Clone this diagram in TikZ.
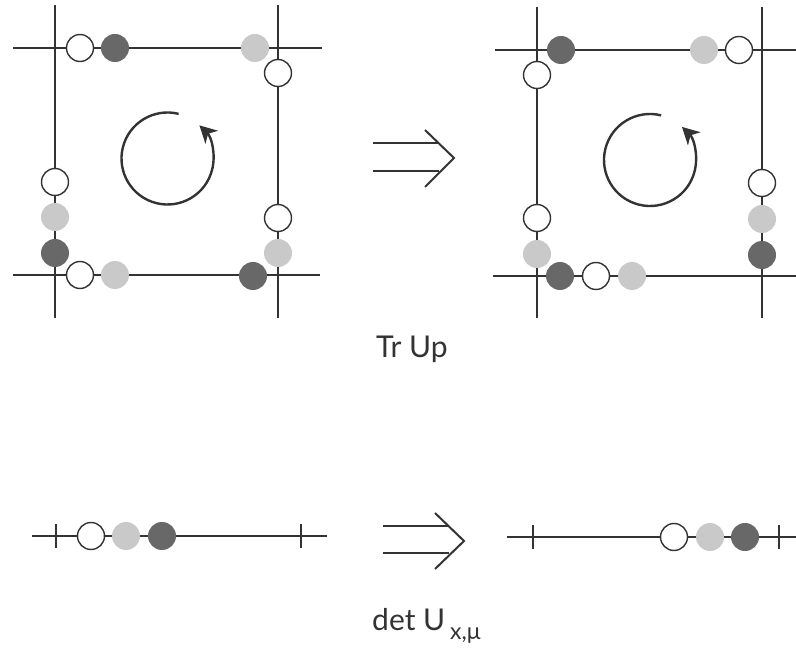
\documentclass[tikz,border=0pt]{standalone}
\usepackage{fontspec}
\setmainfont{Lato}
\usetikzlibrary{arrows.meta,calc}
\definecolor{ink}{HTML}{333333}
\definecolor{lightg}{HTML}{C9C9C9}
\definecolor{darkg}{HTML}{686868}
\tikzset{
  lat/.style={draw=ink,line width=2pt},
  wc/.style={circle,draw=ink,line width=1.4pt,fill=white,minimum size=27pt,inner sep=0pt},
  lc/.style={circle,fill=lightg,minimum size=28pt,inner sep=0pt},
  dc/.style={circle,fill=darkg,minimum size=28pt,inner sep=0pt},
  rot/.style={draw=ink,line width=2.4pt,-{Stealth[length=17pt,width=18pt,inset=5pt]}},
  impl/.style={draw=ink,line width=2pt},
  lbl/.style={font=\fontsize{30}{32}\selectfont,text=ink,inner sep=0pt,anchor=base west}
}
\begin{document}
\begin{tikzpicture}[x=1pt,y=-1pt]
\useasboundingbox (0,0) rectangle (796,652);
% ---------- left plaquette ----------
\draw[lat] (13,48) -- (322,48);
\draw[lat] (13,275) -- (320,275);
\draw[lat] (55,5) -- (55,318);
\draw[lat] (278,5) -- (278,318);
\node[wc] (l1) at (80,48) {};
\node[dc] (l2) at (115,48) {};
\node[lc] (l3) at (255,48) {};
\node[wc] (l4) at (278,73) {};
\node[wc] (l5) at (278,218) {};
\node[lc] (l6) at (278,253) {};
\node[dc] (l7) at (253,276) {};
\node[lc] (l8) at (115,275) {};
\node[wc] (l9) at (80,275) {};
\node[dc] (l10) at (55,253) {};
\node[lc] (l11) at (55,217) {};
\node[wc] (l12) at (55,182) {};
\coordinate (cL) at (167.5,158.5);
\draw[rot] ([shift={(-76:46)}]cL) arc[start angle=-76,end angle=-406,radius=46];
% ---------- right plaquette ----------
\draw[lat] (495,50) -- (796,50);
\draw[lat] (493,276) -- (796,276);
\draw[lat] (537,7) -- (537,318);
\draw[lat] (762,7) -- (762,318);
\node[dc] (r1) at (561,50) {};
\node[lc] (r2) at (704,50) {};
\node[wc] (r3) at (739,50) {};
\node[wc] (r4) at (537,75) {};
\node[wc] (r5) at (537,218) {};
\node[lc] (r6) at (537,254) {};
\node[dc] (r7) at (560,276) {};
\node[wc] (r8) at (596,276) {};
\node[lc] (r9) at (632,276) {};
\node[wc] (r10) at (762,183) {};
\node[lc] (r11) at (762,219) {};
\node[dc] (r12) at (762,255) {};
\coordinate (cR) at (650,160);
\draw[rot] ([shift={(-76:46)}]cR) arc[start angle=-76,end angle=-406,radius=46];
% ---------- top implication arrow ----------
\draw[impl] (373,143) -- (438.5,143);
\draw[impl] (373,171) -- (438.5,171);
\draw[impl] (425,130) -- (454,158) -- (425,187);
\node[lbl] (tr) at (376,358) {Tr Up};
% ---------- bottom links ----------
\draw[lat] (32,536) -- (327,536);
\draw[lat] (56,524) -- (56,548);
\draw[lat] (301,524) -- (301,548);
\node[wc] (b1) at (91,536) {};
\node[lc] (b2) at (126,536) {};
\node[dc] (b3) at (162,536) {};
\draw[lat] (507,537) -- (796,537);
\draw[lat] (533,525) -- (533,549);
\draw[lat] (779,525) -- (779,549);
\node[wc] (c1) at (674,537) {};
\node[lc] (c2) at (710,537) {};
\node[dc] (c3) at (745,537) {};
% ---------- bottom implication arrow ----------
\draw[impl] (383,526) -- (448.5,526);
\draw[impl] (383,553) -- (448.5,553);
\draw[impl] (435,513) -- (464,541) -- (435,569);
\node[lbl] (det) at (372,630) {det U\,\raisebox{-9pt}{\fontsize{23}{23}\selectfont x,μ}};
\end{tikzpicture}
\end{document}
